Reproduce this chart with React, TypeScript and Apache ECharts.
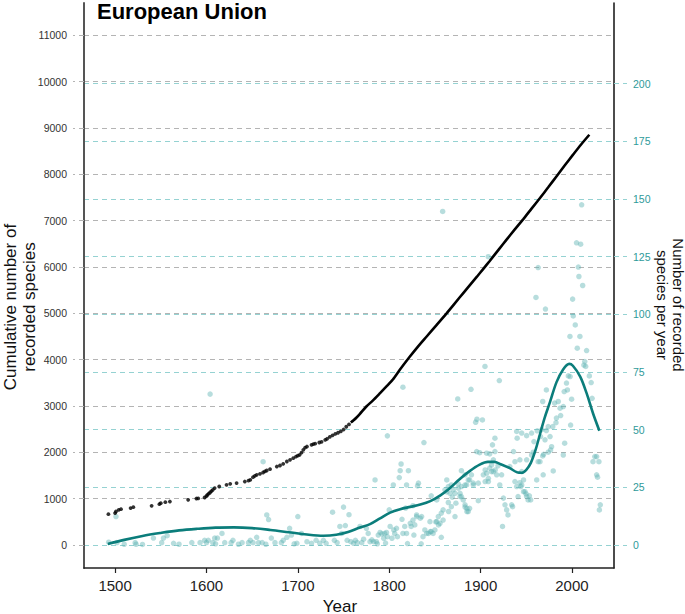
import React, { useEffect, useRef } from "react";
import * as echarts from "echarts";

const titleText = "European Union";
const xAxisTitle = "Year";
const leftAxisTitle = "Cumulative number of\nrecorded species";
const rightAxisTitle = "Number of recorded\nspecies per year";

const xTicks = [1500, 1600, 1700, 1800, 1900, 2000];
const leftTicks = [0, 1000, 2000, 3000, 4000, 5000, 6000, 7000, 8000, 9000, 10000, 11000];
const rightTicks = [0, 25, 50, 75, 100, 125, 150, 175, 200];

// cumulative number of recorded species: early sparse years (dots)
const cumulativeDots: [number, number][] = [
  [1492.7, 663], [1500, 685], [1501, 720], [1504, 756], [1506.5, 771], [1517, 793], [1520, 814],
  [1540, 842], [1548.5, 879], [1550, 900], [1555, 922], [1560, 935], [1580, 972], [1589, 1000],
  [1591, 1003], [1598, 1022], [1600, 1050], [1601, 1080], [1602.5, 1105], [1604, 1130], [1605.5, 1160],
  [1607, 1188], [1609, 1225], [1614, 1260], [1622, 1296], [1626, 1318], [1633, 1333], [1642, 1367],
  [1646, 1385], [1648, 1404], [1651, 1462], [1653, 1490], [1655, 1512], [1658.6, 1533], [1662, 1562],
  [1664, 1585], [1666, 1605], [1669.6, 1635], [1677, 1691], [1680.5, 1713], [1684, 1749], [1688, 1800],
  [1691.5, 1836], [1695, 1872], [1698, 1905], [1700, 1925], [1702, 1944], [1704, 1990], [1706, 2052],
  [1708, 2100], [1710, 2123], [1715, 2160], [1717, 2175], [1719, 2185], [1723.5, 2210], [1726, 2225],
  [1730, 2268], [1732, 2290], [1735, 2330], [1738, 2365], [1741, 2395], [1744, 2420], [1747, 2450],
  [1750, 2490], [1753, 2550], [1756, 2600],
];

// cumulative number of recorded species: dense years (continuous line)
const cumulativeLine: [number, number][] = [
  [1758, 2640], [1761, 2690], [1764, 2745], [1768, 2830], [1775, 2987], [1782, 3115], [1790, 3276],
  [1797, 3420], [1804, 3570], [1812, 3790], [1822, 4050], [1831, 4270], [1841, 4499], [1852, 4750],
  [1863, 5004], [1877, 5340], [1886, 5555], [1896, 5790], [1903, 5960], [1910, 6130], [1920, 6380],
  [1928, 6580], [1937, 6800], [1947, 7040], [1956, 7265], [1965, 7488], [1974, 7720], [1983, 7955],
  [1992, 8190], [2001, 8420], [2010, 8645], [2019, 8855],
];

// number of recorded species per year
const annualCounts: [number, number][] = [
  [1493, 1.2], [1501, 12.3], [1502, 1], [1510, 0.3], [1522, 1], [1523, 0.3], [1530, 0.2], [1542, 3],
  [1551, 1], [1553, 3], [1557, 4], [1564, 0.7], [1570, 0.3], [1584, 1], [1593, 1], [1598, 2], [1600, 1],
  [1602, 2], [1604, 65.4], [1607, 1], [1609, 3], [1610, 0.5], [1612, 3], [1617, 5], [1620, 1], [1627, 1],
  [1629, 2], [1635, 0.3], [1639, 1], [1646, 1], [1648, 2], [1651, 1], [1655, 3.3], [1657, 1], [1661, 1],
  [1662, 36.1], [1665, 0.3], [1666, 13], [1668, 11], [1671, 3], [1675, 1], [1682, 1], [1684, 2],
  [1688, 3.3], [1691, 7.2], [1693, 4.3], [1696, 0.5], [1699, 0.7], [1700, 12.3], [1704, 5], [1710, 1.4],
  [1715, 0.7], [1720, 2], [1724, 0.7], [1728, 2], [1731, 0.7], [1738, 14.2], [1740, 2], [1743, 1],
  [1746, 8], [1748, 5], [1750, 16.4], [1752, 8.4], [1754, 2], [1756, 13.1], [1758, 1.4], [1761, 0.7],
  [1763, 2], [1765, 1], [1768, 8], [1770, 1], [1772, 2.5], [1775, 7.2], [1777, 5], [1779, 1.4],
  [1781, 2.2], [1783, 1.4], [1784.5, 28.2], [1786, 1.4], [1787, 0.5], [1788, 4.3], [1790, 5.4],
  [1792, 4.8], [1794, 2.9], [1795, 5], [1796, 0.8], [1797, 5.4], [1798, 3.6], [1798, 47.3], [1800, 15.2],
  [1801, 8], [1803, 2.9], [1804.5, 26], [1805, 6.5], [1806, 5], [1808, 7.2], [1809, 3.6], [1811, 29.2],
  [1812, 32.2], [1813, 35.1], [1814, 11.1], [1815, 68.4], [1815, 5], [1817, 8], [1818, 16], [1819, 5],
  [1819, 26], [1820, 0.6], [1821, 32.2], [1823, 9.4], [1824, 8], [1826, 17], [1826, 10.8], [1827, 4.3],
  [1828, 8.7], [1830, 12.3], [1830, 13], [1831, 25.6], [1832, 26.8], [1834, 11.6], [1835, 0.5],
  [1835.5, 12.3], [1837, 3.6], [1838, 44.4], [1839, 6.5], [1841, 5], [1843, 5], [1844.6, 10.1],
  [1845, 5.8], [1846, 21.3], [1846, 5.8], [1848, 5], [1850, 6.5], [1851, 10], [1852, 19.5], [1852, 10.1],
  [1853.7, 12.3], [1854, 8.7], [1855.6, 9.4], [1857, 13.8], [1857, 3.3], [1858.5, 144.6], [1859, 15.2],
  [1859, 10.8], [1861, 23.9], [1863, 28.2], [1863, 23], [1864.7, 25.3], [1864.7, 18.4], [1865, 14.5],
  [1866.5, 22.4], [1868, 26], [1868, 16.6], [1869, 20.7], [1870, 23.9], [1872, 22.4], [1872, 12.3],
  [1873, 18.1], [1875, 63.3], [1875.6, 24.6], [1875.6, 26.5], [1877.5, 22.4], [1877.5, 21], [1879, 25.3],
  [1879, 32.2], [1879, 21], [1881, 19.5], [1883, 30.4], [1883, 17.4], [1883, 16.4], [1883, 26],
  [1884.7, 26], [1885, 15.9], [1885, 14.5], [1886.5, 28.2], [1886.5, 14.5], [1888, 28.2], [1888, 15.9],
  [1889.5, 67.5], [1890, 30.4], [1892, 26.8], [1892, 26], [1894.6, 53.2], [1895.7, 40.5], [1896, 54.5],
  [1897.5, 26.8], [1897.5, 19.2], [1899, 40], [1902, 54.2], [1903, 30.4], [1904.8, 77.4], [1905, 27.5],
  [1905, 32.5], [1906.6, 39.8], [1906.6, 31.1], [1908.4, 125], [1908.5, 28.9], [1908.5, 27.5],
  [1910, 39.5], [1910, 33.3], [1912, 34.7], [1912, 31.8], [1913, 43.4], [1914, 31.8], [1914, 36.9],
  [1915.7, 46.3], [1915.7, 40.5], [1916, 32.5], [1917.6, 30.4], [1919, 34.3], [1920.5, 71.3], [1921, 26],
  [1923, 30.4], [1924, 8], [1925, 20.3], [1926.7, 17.4], [1928.5, 15.2], [1930, 13], [1932, 34],
  [1934, 17.4], [1935, 16.6], [1936, 40.5], [1937.6, 36.1], [1937.6, 27.5], [1939.5, 49.2],
  [1939.5, 25.3], [1940, 46.3], [1941, 21], [1943, 36.9], [1943, 27], [1944, 25.3], [1945, 48.5],
  [1945, 31.8], [1945, 26], [1947, 28.2], [1947, 23.1], [1948.6, 23.1], [1949.8, 22.1], [1950.4, 47.4],
  [1950.4, 36.9], [1950.4, 21], [1952, 19.5], [1953.4, 21.3], [1954.8, 19.5], [1955.8, 48.5],
  [1955.8, 39], [1957.6, 40.2], [1958.4, 44.8], [1960.6, 107.3], [1961.4, 28.2], [1962, 49.5],
  [1963, 120.3], [1963, 36.1], [1965, 36.1], [1965.6, 47], [1967, 50], [1968, 62.2], [1968, 38.6],
  [1968.5, 30.4], [1969, 39.3], [1970.5, 45.6], [1971, 102.3], [1972, 67.2], [1972, 49.6], [1974, 51.3],
  [1974, 40.2], [1976, 47], [1976.6, 41.2], [1977.7, 42.6], [1979, 51.3], [1979.5, 32.1], [1981, 61.5],
  [1982.5, 53], [1983, 55], [1985, 62.2], [1987, 59.3], [1987.6, 56.1], [1990.5, 60], [1990.5, 39],
  [1991.5, 66.5], [1992, 44.1], [1994, 70.2], [1995, 67.2], [1996, 73.3], [1997.8, 90.4], [1998, 73],
  [1998.5, 52], [1999.6, 63.2], [2000.7, 106.6], [2001.4, 99.3], [2003.6, 95.4], [2005, 131],
  [2005.8, 85.3], [2007, 120.5], [2007.6, 116.4], [2008.7, 90.4], [2009.5, 130.4], [2010.6, 147.5],
  [2011.7, 112.5], [2013, 78], [2014, 79.5], [2015, 77.4], [2016, 84.3], [2019, 73.3], [2021, 70.4],
  [2022, 63.6], [2023, 36.1], [2025, 38.3], [2027, 38.3], [2027, 30.4], [2028, 29.4], [2029.5, 36.1],
  [2030, 15.2], [2031, 17.4],
];

// smoothed trend of species per year
const trendCurve: [number, number][] = [
  [1492, 0.4], [1510, 2.2], [1530, 3.9], [1550, 5.2], [1570, 6.3], [1590, 7], [1610, 7.5], [1630, 7.6],
  [1650, 7.3], [1670, 6.5], [1690, 5.5], [1710, 4.5], [1728, 4], [1742, 4.4], [1755, 5.6], [1768, 7.6],
  [1779, 9], [1790, 11.5], [1801, 14], [1812, 15.5], [1823, 16.5], [1834, 17.5], [1845, 19],
  [1856, 21.5], [1866, 24.5], [1877, 28.5], [1888, 32], [1899, 34.8], [1908, 36], [1915, 36],
  [1922, 35], [1932, 33.3], [1940, 31.5], [1945, 31.3], [1950, 32.6], [1955, 35.6], [1960, 41],
  [1965, 48], [1970, 55], [1976, 62], [1983, 70.5], [1990, 75.9], [1997, 78.5], [2001, 77.7],
  [2009, 73], [2016, 65.8], [2023, 57.1], [2030, 49.5],
];

const FONT = "'Liberation Sans', Arial, Helvetica, sans-serif";
const GRAY_GRID = "#b4b4b4";
const TEAL_GRID = "#95d2d2";
const TEAL_TEXT = "#2e9a9a";
const plain = (v: number) => String(v);

export default function App() {
  const ref = useRef<HTMLDivElement>(null);

  useEffect(() => {
    if (!ref.current) return;
    const chart = echarts.init(ref.current, undefined, { renderer: "svg" });
    chart.setOption({
      animation: false,
      backgroundColor: "#ffffff",
      textStyle: { fontFamily: FONT },
      grid: { left: 84, right: 71, top: 3, bottom: 46, containLabel: false },
      xAxis: {
        type: "value",
        min: 1466,
        max: 2046,
        axisLine: { show: true, onZero: false, lineStyle: { color: "#222", width: 1.5 } },
        axisTick: { show: true, length: 5, customValues: xTicks, lineStyle: { color: "#222", width: 1.2 } },
        axisLabel: {
          customValues: xTicks,
          formatter: plain,
          fontSize: 15,
          color: "#222",
          margin: 10,
          fontFamily: FONT,
        },
        splitLine: { show: false },
      },
      yAxis: [
        {
          type: "value",
          position: "left",
          min: -500,
          max: 11700,
          axisLine: { show: true, onZero: false, lineStyle: { color: "#555", width: 2 } },
          axisTick: {
            show: true,
            length: 11,
            customValues: leftTicks,
            lineStyle: { color: GRAY_GRID, width: 1.2, type: [5, 4] },
          },
          axisLabel: {
            customValues: leftTicks,
            formatter: plain,
            fontSize: 10.5,
            color: "#333",
            margin: 17,
            fontFamily: FONT,
          },
          splitLine: { show: true, lineStyle: { color: GRAY_GRID, width: 1.2, type: [5, 4] } },
        },
        {
          type: "value",
          position: "right",
          min: -10,
          max: 235,
          axisLine: { show: true, onZero: false, lineStyle: { color: "#111", width: 1.5 } },
          axisTick: {
            show: true,
            length: 13,
            customValues: rightTicks,
            lineStyle: { color: TEAL_GRID, width: 1.2, type: [5, 4] },
          },
          axisLabel: {
            customValues: rightTicks,
            formatter: plain,
            fontSize: 10.5,
            color: TEAL_TEXT,
            margin: 19,
            fontFamily: FONT,
          },
          splitLine: { show: true, lineStyle: { color: TEAL_GRID, width: 1.2, type: [5, 4] } },
        },
      ],
      graphic: [
        {
          type: "text",
          x: 97,
          y: 11,
          style: {
            text: titleText,
            fontSize: 22,
            fontWeight: "bold",
            fontFamily: FONT,
            fill: "#000",
            align: "left",
            verticalAlign: "middle",
          },
        },
        {
          type: "text",
          x: 340,
          y: 606,
          style: {
            text: xAxisTitle,
            fontSize: 17,
            fontFamily: FONT,
            fill: "#111",
            align: "center",
            verticalAlign: "middle",
          },
        },
        {
          type: "text",
          x: 20,
          y: 307,
          rotation: Math.PI / 2,
          style: {
            text: leftAxisTitle,
            fontSize: 17,
            lineHeight: 19,
            fontFamily: FONT,
            fill: "#111",
            align: "center",
            verticalAlign: "middle",
          },
        },
        {
          type: "text",
          x: 670,
          y: 305,
          rotation: -Math.PI / 2,
          style: {
            text: rightAxisTitle,
            fontSize: 15,
            lineHeight: 16,
            fontFamily: FONT,
            fill: "#111",
            align: "center",
            verticalAlign: "middle",
          },
        },
      ],
      series: [
        {
          type: "scatter",
          yAxisIndex: 1,
          data: annualCounts,
          symbolSize: 5.5,
          itemStyle: { color: "#5fb4b4", opacity: 0.45 },
          silent: true,
          z: 2,
        },
        {
          type: "line",
          yAxisIndex: 1,
          data: trendCurve,
          smooth: 0.35,
          symbol: "none",
          showSymbol: false,
          lineStyle: { color: "#0b7d7b", width: 2.6 },
          silent: true,
          z: 3,
        },
        {
          type: "scatter",
          yAxisIndex: 0,
          data: cumulativeDots,
          symbolSize: 3.8,
          itemStyle: { color: "#000" },
          silent: true,
          z: 4,
        },
        {
          type: "line",
          yAxisIndex: 0,
          data: cumulativeLine,
          smooth: 0.25,
          symbol: "none",
          showSymbol: false,
          lineStyle: { color: "#000", width: 2.6 },
          silent: true,
          z: 4,
        },
      ],
    });
    return () => chart.dispose();
  }, []);

  return (
    <div
      ref={ref}
      style={{ position: "fixed", left: 0, top: 0, width: 685, height: 614, background: "#fff" }}
    />
  );
}
